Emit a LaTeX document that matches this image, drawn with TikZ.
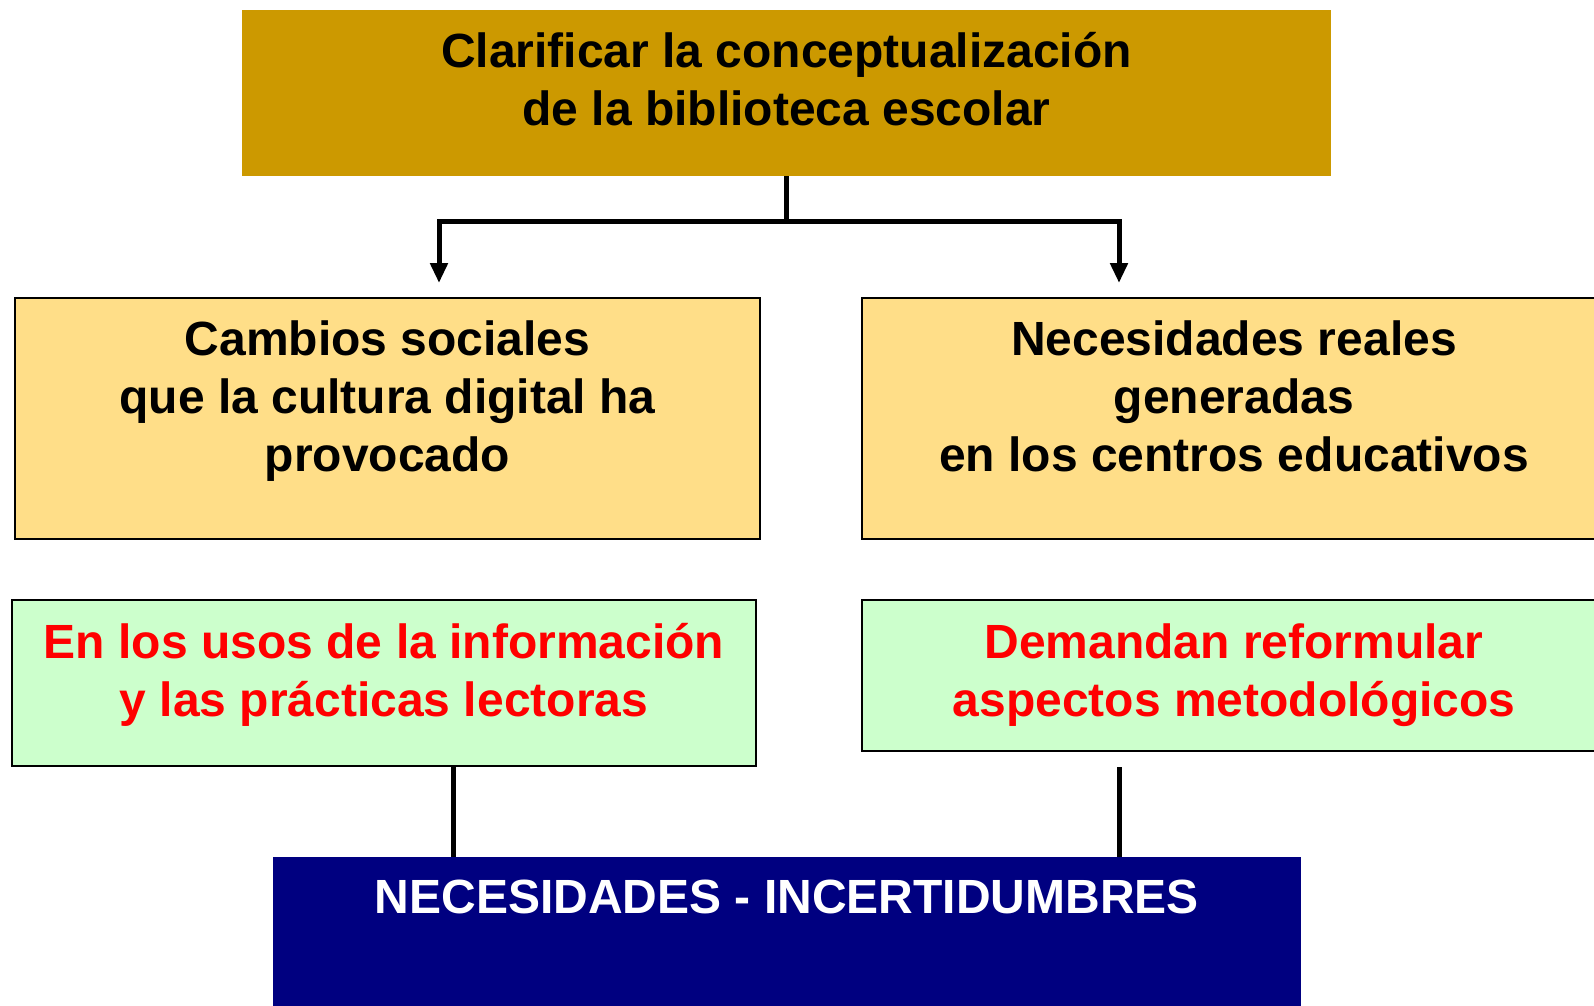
\documentclass[tikz,border=0pt]{standalone}
\usepackage{fontspec}
\setmainfont{Liberation Sans}
\usetikzlibrary{arrows.meta}
\definecolor{topgold}{HTML}{CC9900}
\definecolor{paleyellow}{HTML}{FFDE88}
\definecolor{palegreen}{HTML}{CCFFCC}
\definecolor{navyblue}{HTML}{000080}
\definecolor{brightred}{HTML}{FF0000}
\tikzset{
  box/.style={rectangle, inner sep=0pt, outer sep=0pt, anchor=north west},
  yellowbox/.style={box, fill=paleyellow, draw=black, line width=2pt},
  greenbox/.style={box, fill=palegreen, draw=black, line width=2pt},
  txt/.style={inner sep=0pt, outer sep=0pt, align=center, anchor=base,
    font=\fontsize{48}{58}\selectfont\bfseries},
  conn/.style={line width=5pt, draw=black},
  arr/.style={conn, -{Triangle[length=20pt,width=17pt]}}
}
\begin{document}
\begin{tikzpicture}[x=1pt,y=-1pt]
\useasboundingbox (0,0) rectangle (1594,1005);
% boxes
\node[box, fill=topgold, minimum width=1089pt, minimum height=166pt] (top) at (242,10) {};
\node[yellowbox, minimum width=745pt, minimum height=241pt] (yl) at (15,298) {};
\node[yellowbox, minimum width=760pt, minimum height=241pt] (yr) at (862,298) {};
\node[greenbox, minimum width=744pt, minimum height=166pt] (gl) at (12,600) {};
\node[greenbox, minimum width=760pt, minimum height=151pt] (gr) at (862,600) {};
\node[box, fill=navyblue, minimum width=1028pt, minimum height=160pt] (bot) at (273,857) {};
% texts (anchored at the baseline of the last line)
\node[txt] (toptext) at (786.5,125) {Clarificar la conceptualización\\de la biblioteca escolar};
\node[txt] (yltext) at (387.5,471) {Cambios sociales\\que la cultura digital ha\\provocado};
\node[txt] (yrtext) at (1234,471) {Necesidades reales\\generadas\\en los centros educativos};
\node[txt, text=brightred] (gltext) at (384,716) {En los usos de la información\\y las prácticas lectoras};
\node[txt, text=brightred] (grtext) at (1234,716) {Demandan reformular\\aspectos metodológicos};
\node[txt, text=white] (bottext) at (787,913) {NECESIDADES - INCERTIDUMBRES};
% connectors
\coordinate (junction) at (786.5,221);
\coordinate (lefttip) at (439,283);
\coordinate (righttip) at (1119,283);
\coordinate (leftdrop) at (453,857);
\coordinate (rightstart) at (1119,767);
\draw[conn] (top.south) -- (junction);
\draw[arr] (junction) -| (lefttip);
\draw[arr] (junction) -| (righttip);
\draw[conn] (leftdrop |- gl.south) -- (leftdrop);
\draw[conn] (rightstart) -- (rightstart |- bot.north);
\end{tikzpicture}
\end{document}
